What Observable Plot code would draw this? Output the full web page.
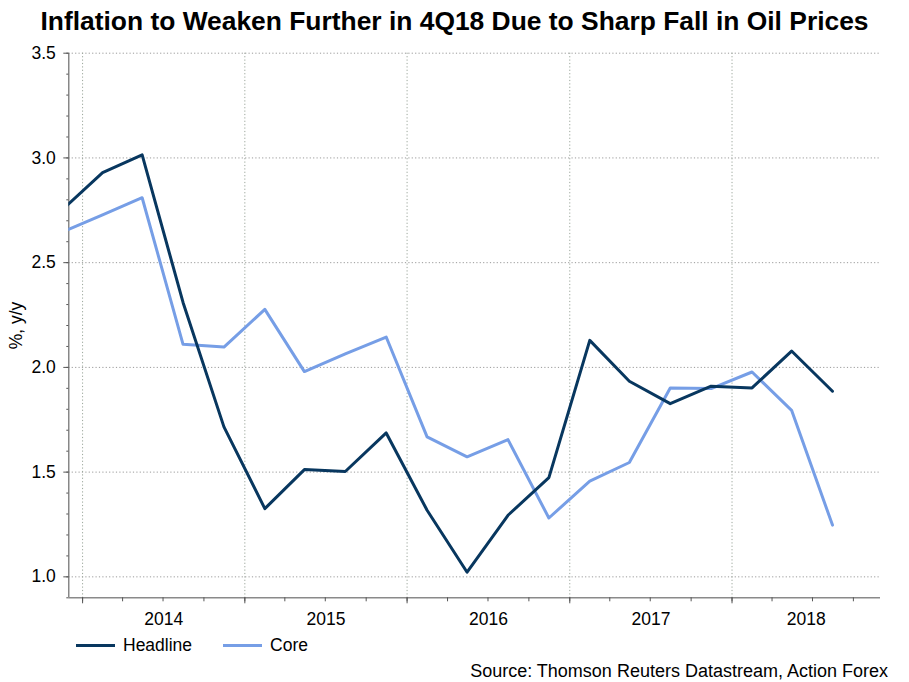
<!DOCTYPE html>
<html>
<head>
<meta charset="utf-8">
<script src="https://cdn.jsdelivr.net/npm/d3@7"></script>
<script src="https://cdn.jsdelivr.net/npm/@observablehq/plot@0.6"></script>
<style>
  html, body { margin: 0; padding: 0; background: #fff; }
  #wrap { width: 909px; height: 682px; position: relative; overflow: hidden; font-family: "Liberation Sans", Arial, sans-serif; color: #000; }
  #title { height: 44px; line-height: 42px; text-align: center; font-weight: bold; font-size: 26.4px; white-space: nowrap; }
  #chart { height: 590px; }
  #chart svg { display: block; }
  #legend { height: 22px; line-height: 22px; font-size: 17.5px; display: flex; align-items: center; padding-left: 76px; white-space: nowrap; }
  .sw { display: inline-block; height: 3px; width: 39px; margin-right: 8px; }
  #source { height: 26px; line-height: 30px; font-size: 18px; text-align: right; padding-right: 21px; white-space: nowrap; }
</style>
</head>
<body>
<div id="wrap">
  <div id="title">Inflation to Weaken Further in 4Q18 Due to Sharp Fall in Oil Prices</div>
  <div id="chart"></div>
  <div id="legend">
    <span class="sw" style="background:#08375f"></span><span>Headline</span>
    <span class="sw" style="background:#769ee6;margin-left:31px"></span><span>Core</span>
  </div>
  <div id="source">Source: Thomson Reuters Datastream, Action Forex</div>
</div>
<script>
// Quarterly observations (plotted at mid-quarter)
const dates = ["2013-11-15","2014-02-15","2014-05-15","2014-08-15","2014-11-15",
               "2015-02-15","2015-05-15","2015-08-15","2015-11-15",
               "2016-02-15","2016-05-15","2016-08-15","2016-11-15",
               "2017-02-15","2017-05-15","2017-08-15","2017-11-15",
               "2018-02-15","2018-05-15","2018-08-15"];
const headline = [2.75, 2.93, 3.015, 2.31, 1.716, 1.326, 1.512, 1.503, 1.687, 1.318,
                  1.022, 1.294, 1.474, 2.129, 1.934, 1.827, 1.91, 1.902, 2.078, 1.886];
const core = [2.645, 2.728, 2.81, 2.11, 2.097, 2.277, 1.98, 2.065, 2.145, 1.668,
              1.573, 1.655, 1.281, 1.457, 1.546, 1.902, 1.899, 1.978, 1.795, 1.247];
const yearLabels = ["2014", "2015", "2016", "2017", "2018"];
const yTicks = [1.0, 1.5, 2.0, 2.5, 3.0, 3.5];
const xDomain = ["2013-12-01", "2018-12-01"];
const yDomain = [0.9, 3.5];

const navy = "#08375f";
const light = "#769ee6";

const table = dates.map((d, i) => ({date: new Date(d), headline: headline[i], core: core[i]}));
const xd = xDomain.map(d => new Date(d));
const yearStarts = yearLabels.map(y => new Date(`${y}-01-01`));
// label each year at the centre of its visible span on the axis
const yearMids = yearLabels.map(y => {
  const s = new Date(`${y}-01-01`);
  const e = new Date(`${+y + 1}-01-01`);
  const ee = e > xd[1] ? xd[1] : e;
  return new Date((+s + +ee) / 2);
});
const quarterStarts = d3.utcMonth.every(3).range(xd[0], xd[1]);
const yMinor = d3.range(9, 36).map(v => v / 10);

const chart = Plot.plot({
  width: 909,
  height: 590,
  marginTop: 8.7,
  marginBottom: 36.7,
  marginLeft: 68.3,
  marginRight: 29,
  x: {type: "utc", domain: xd},
  y: {domain: yDomain},
  style: {fontFamily: "'Liberation Sans', Arial, sans-serif", fontSize: "17.5px", color: "#000", background: "#fff", overflow: "visible"},
  marks: [
    Plot.gridY(yTicks, {stroke: "#9a9a9a", strokeOpacity: 1, strokeDasharray: "1.2,2.2"}),
    Plot.gridX(yearStarts, {stroke: "#9aa59a", strokeOpacity: 1, strokeDasharray: "1.2,2.2"}),
    Plot.ruleX([xd[0]], {stroke: "#6a6a6a", strokeWidth: 1.2}),
    Plot.ruleY([yDomain[0]], {stroke: "#8a8a8a", strokeWidth: 1.5}),
    Plot.axisY(yMinor, {tickSize: 2, tickFormat: () => "", label: null, stroke: "#555"}),
    Plot.axisY(yTicks, {tickSize: 5, tickPadding: 8, tickFormat: d3.format(".1f"), stroke: "#555",
      label: "%, y/y", labelAnchor: "center", labelOffset: 59, labelArrow: "none"}),
    Plot.axisX(quarterStarts, {tickSize: 4, tickFormat: () => "", label: null, stroke: "#555"}),
    Plot.axisX(yearStarts, {tickSize: 6, tickFormat: () => "", label: null, stroke: "#555"}),
    Plot.axisX(yearMids, {tickSize: 0, tickPadding: 14.5, tickFormat: d3.utcFormat("%Y"), label: null}),
    Plot.lineY(table, {x: "date", y: "core", stroke: light, strokeWidth: 3, clip: true}),
    Plot.lineY(table, {x: "date", y: "headline", stroke: navy, strokeWidth: 3, clip: true})
  ]
});
document.getElementById("chart").appendChild(chart);
</script>
</body>
</html>
